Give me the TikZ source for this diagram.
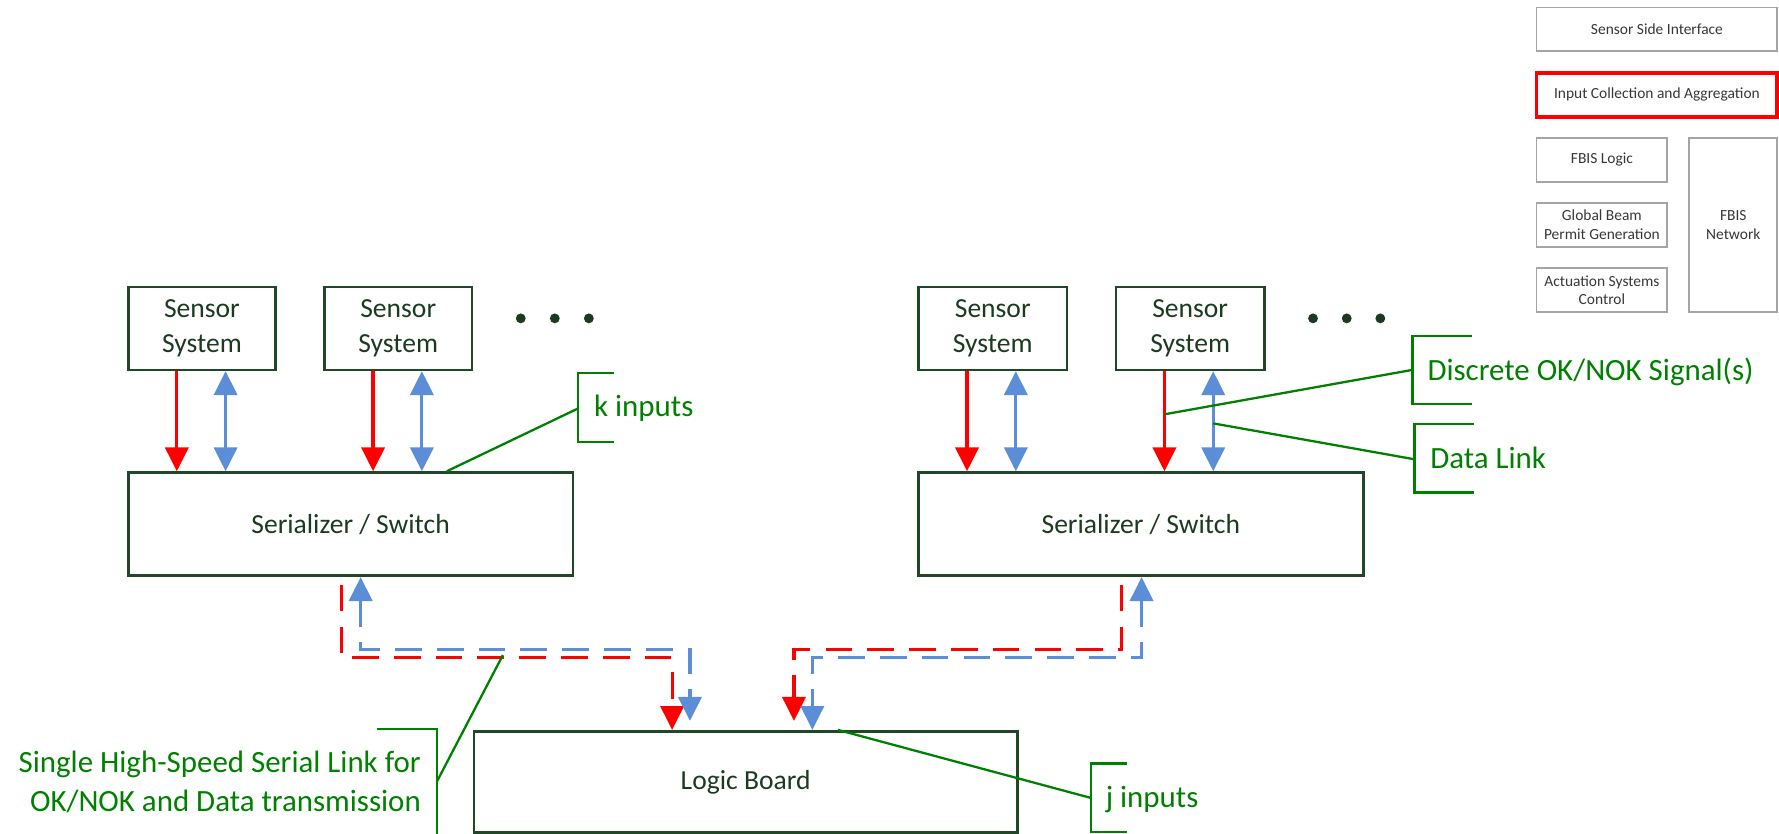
\documentclass[tikz,border=0pt]{standalone}
\usepackage{fontspec}
\setmainfont{Carlito}
\usetikzlibrary{arrows.meta,calc}

\definecolor{boxline}{RGB}{32,72,40}
\definecolor{boxtext}{RGB}{28,58,32}
\definecolor{okred}{RGB}{255,0,0}
\definecolor{datablue}{RGB}{91,142,214}
\definecolor{callout}{RGB}{0,128,0}
\definecolor{legline}{RGB}{165,165,165}
\definecolor{legtext}{RGB}{55,55,55}

% box given by its corners: style, name, x1, y1, x2, y2, text
\newcommand\cornerbox[7]{%
  \pgfmathsetmacro\cbx{(#3+#5)/2}%
  \pgfmathsetmacro\cby{(#4+#6)/2}%
  \pgfmathsetmacro\cbw{(#5-#3)*0.011346}%
  \pgfmathsetmacro\cbh{(#6-#4)*0.011346}%
  \node[#1, minimum width=\cbw cm, minimum height=\cbh cm] (#2) at (\cbx,\cby) {#7};}

\begin{document}
\begin{tikzpicture}[x=0.011346cm, y=-0.011346cm,
  hd/.tip={Triangle[length=6.8pt,width=6.6pt]},
  box/.style={draw=boxline, line width=0.75pt, text=boxtext, align=center,
    inner sep=0pt, font=\fontsize{7.85}{10}\selectfont},
  legbox/.style={draw=legline, line width=0.5pt, text=legtext, align=center,
    inner sep=0pt, font=\fontsize{4.4}{5.3}\selectfont},
  legsel/.style={legbox, draw=okred, line width=1.1pt},
  okline/.style={draw=okred, line width=0.95pt, -{hd}},
  dataline/.style={draw=datablue, line width=0.9pt, {hd}-{hd}},
  okdash/.style={draw=okred, line width=0.9pt, dash pattern=on 7.6pt off 4.3pt},
  datadash/.style={draw=datablue, line width=0.9pt, dash pattern=on 7.6pt off 4.3pt},
  lead/.style={draw=callout, line width=0.65pt},
  lbl/.style={text=callout, inner sep=0pt, font=\fontsize{8.8}{11.1}\selectfont},
  dot/.style={circle, fill=boxtext, inner sep=0pt, minimum size=2.8pt}]

\useasboundingbox (0,0) rectangle (1568,735);

% ---------- sensors and serializers ----------
\cornerbox{box}{sA}{113}{253}{243}{326}{Sensor\\System}
\cornerbox{box}{sB}{286}{253}{416}{326}{Sensor\\System}
\cornerbox{box}{sC}{809.5}{253}{940.5}{326}{Sensor\\System}
\cornerbox{box}{sD}{983.5}{253}{1114.5}{326}{Sensor\\System}
\cornerbox{box}{serL}{113}{416.5}{505}{507.5}{Serializer / Switch}
\cornerbox{box}{serR}{809.5}{416.5}{1201.5}{507.5}{Serializer / Switch}
\cornerbox{box}{logic}{417.7}{644.5}{896.7}{734}{Logic Board}

\node[dot] (dL1) at (459,280.6) {};
\node[dot] (dL2) at (489,280.6) {};
\node[dot] (dL3) at (519,280.6) {};
\node[dot] (dR1) at (1157.3,280.6) {};
\node[dot] (dR2) at (1187,280.6) {};
\node[dot] (dR3) at (1216.6,280.6) {};

% ---------- legend ----------
\cornerbox{legbox}{lSSI}{1354.3}{6.5}{1566.5}{44.7}{Sensor Side Interface}
\cornerbox{legsel}{lICA}{1354.3}{64}{1566.5}{102.8}{Input Collection and Aggregation}
\cornerbox{legbox}{lLog}{1354.3}{121.3}{1469.5}{160.1}{FBIS Logic}
\cornerbox{legbox}{lGBP}{1354.3}{179.2}{1469.5}{217.4}{Global Beam\\Permit Generation}
\cornerbox{legbox}{lAct}{1354.3}{236.5}{1469.5}{275.3}{Actuation Systems\\Control}
\cornerbox{legbox}{lNet}{1488.9}{121.3}{1566.5}{275.3}{FBIS\\Network}

% ---------- sensor links ----------
\foreach \s/\t in {sA/serL, sB/serL, sC/serR, sD/serR}{
  \coordinate (r\s) at ($(\s.south west)+(44,0)$);
  \coordinate (b\s) at ($(\s.south west)+(87,0)$);
  \draw[okline] (r\s) -- (r\s |- \t.north);
  \draw[dataline] (b\s) -- (b\s |- \t.north);
}

% ---------- serial links to the logic board ----------
\coordinate (lrs) at ($(serL.south west)+(189.2,6.7)$);
\coordinate (lrb) at (592.4,579.8);
\draw[okdash,-{hd}] (lrs) |- (lrb) -- (lrb |- logic.north);
\coordinate (lbs) at (317.9,572.4);
\coordinate (lbb) at (608.1,572.4);
\draw[datadash,{hd}-{hd}] (lbs |- serL.south) -- (lbs) -- (lbb) -- ($(lbb |- logic.north)+(0,-8)$);

\coordinate (rrs) at ($(serR.south west)+(180.5,6.7)$);
\coordinate (rrb) at (699.8,572.4);
\draw[okdash,-{hd}] (rrs) |- (rrb) -- ($(rrb |- logic.north)+(0,-8)$);
\coordinate (rbs) at (1006.2,579.8);
\coordinate (rbb) at (716,579.8);
\draw[datadash,{hd}-{hd}] (rbs |- serR.south) -- (rbs) -- (rbb) -- (rbb |- logic.north);

% ---------- callouts ----------
\node[lbl, anchor=base west] (kl) at (523,367.4) {k inputs};
\draw[lead] (541,328.6) -- (509.5,328.6) -- (509.5,389.5) -- (541,389.5);
\coordinate (kb) at (509.5,360);
\draw[lead] ($(serL.north west)+(282,0)$) -- (kb);

\node[lbl, anchor=base west] (dl) at (1257.6,335) {Discrete OK/NOK Signal(s)};
\draw[lead] (1297,296) -- (1245,296) -- (1245,356) -- (1297,356);
\coordinate (db) at (1245,326);
\draw[lead] ($(rsD)+(0,38)$) -- (db);

\node[lbl, anchor=base west] (ll) at (1260,413) {Data Link};
\draw[lead] (1299.6,374) -- (1246.7,374) -- (1246.7,434) -- (1299.6,434);
\coordinate (lb) at (1246.7,404.8);
\draw[lead] ($(bsD)+(0,46)$) -- (lb);

\node[lbl, anchor=base west] (jl) at (974,711.6) {j inputs};
\draw[lead] (993,673) -- (961.6,673) -- (961.6,733.4) -- (993,733.4);
\coordinate (jb) at (961.6,703.3);
\draw[lead] ($(logic.north west)+(322,0)$) -- (jb);

\node[lbl, anchor=east, align=right] (sl) at (371.5,688.8)
  {Single High-Speed Serial Link for\\OK/NOK and Data transmission};
\draw[lead] (332,642.6) -- (385,642.6) -- (385,735);
\coordinate (sb) at (385,689);
\coordinate (sp) at (443.2,577.4);
\draw[lead] (sp) -- (sb);

\end{tikzpicture}
\end{document}
